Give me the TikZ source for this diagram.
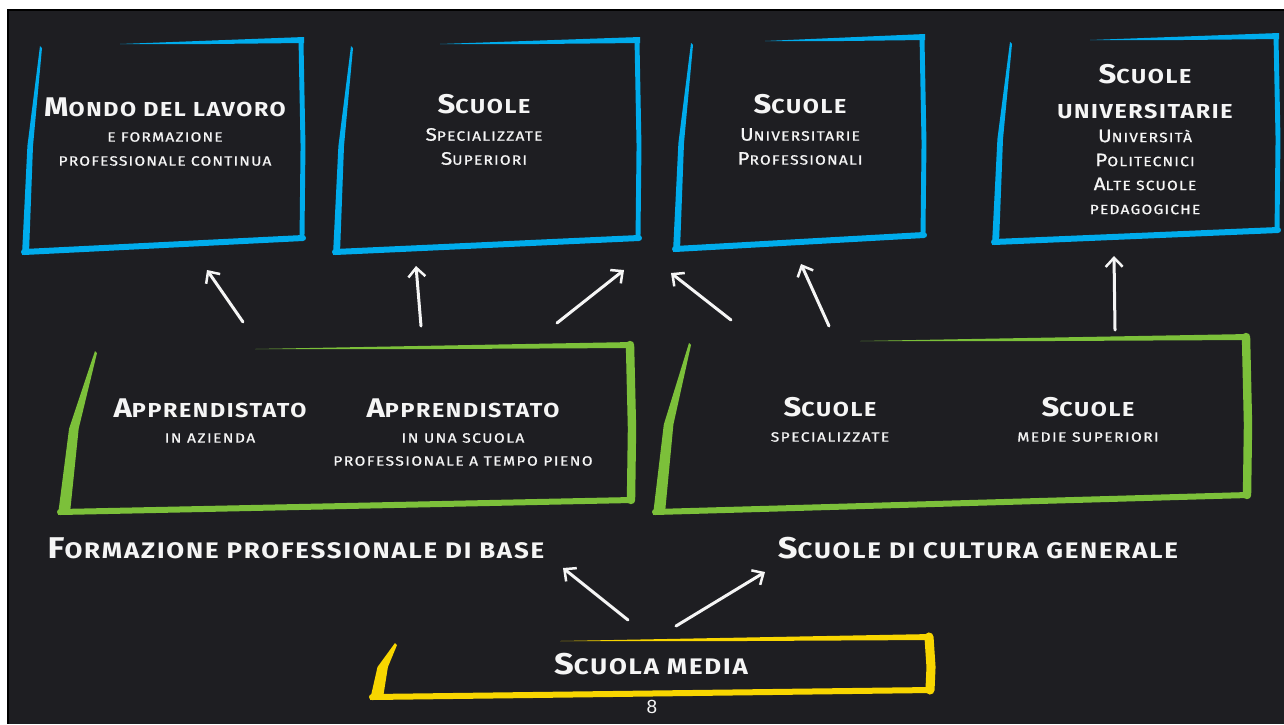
\documentclass[tikz,border=0pt]{standalone}
\usepackage{fontspec}
\setmainfont{Fira Sans}
\newfontfamily\titlefont[FakeStretch=1.15,LetterSpace=8]{Fira Sans}
\newfontfamily\labelfont[FakeStretch=1.15,LetterSpace=8]{Fira Sans}
\newfontfamily\subfont[FakeStretch=1.15,LetterSpace=9,FakeBold=1]{Fira Sans}
\newfontfamily\gsubfont[FakeStretch=1.15,LetterSpace=11,FakeBold=1]{Fira Sans}
\newfontfamily\pagefont{Liberation Sans}
\usetikzlibrary{arrows.meta}
\makeatletter
\newcommand\smc[1]{{\fontsize{\fpeval{0.75*\f@size}}{\f@baselineskip}\selectfont\MakeUppercase{#1}}}
\makeatother
\definecolor{board}{RGB}{30,30,34}
\definecolor{cblue}{RGB}{0,172,236}
\definecolor{cgreen}{RGB}{124,192,58}
\definecolor{cyellow}{RGB}{248,214,0}
\definecolor{chalk}{RGB}{245,245,245}
% #1 colour, #2 L, #3 T, #4 R, #5 B, #6 top start x, #7 left top offset, #8 left thickness, #9 bottom slope
\newcommand\chalkbox[9]{%
  \fill[#1] ({#2+#7},{#3+6}) -- ({#2+0.3*#7},{(#3+#5)/2}) -- ({#2},{#5+3})
     -- ({#2+#8},{#5+1}) -- ({#2+0.3*#7+0.8*#8},{(#3+#5)/2}) -- ({#2+#7+2},{#3+8}) -- cycle;
  \fill[#1] (#6,{#3+4}) -- ({#4+3},{#3-3}) -- ({#4+3},{#3+3}) -- ({(#6+#4)/2},{#3+4}) -- cycle;
  \draw[#1,line width={0.7*#8},line cap=round] (#4,{#3}) -- ({#4+2},{(#3+#5)/2}) -- ({#4+1},{#5-#9});
  \draw[#1,line width=6pt,line cap=round] ({#2+2},{#5}) -- ({#4+2},{#5-#9});
}
\begin{document}
\begin{tikzpicture}[x=1pt,y=-1pt,
  title/.style={text=chalk,font=\titlefont\fontsize{27}{35}\selectfont\bfseries,align=center,inner sep=0pt},
  sub/.style={text=chalk,font=\subfont\fontsize{18}{24}\selectfont,align=center,inner sep=0pt},
  gsub/.style={text=chalk,font=\gsubfont\fontsize{18}{23}\selectfont,align=center,inner sep=0pt},
  label/.style={text=chalk,font=\labelfont\fontsize{30}{36}\selectfont\bfseries,inner sep=0pt},
  chalkarrow/.style={draw=chalk,line width=3pt,line cap=round,
    -{Straight Barb[length=9pt,width=17pt,line width=2.5pt]}}]
\useasboundingbox (0,0) rectangle (1284,724);
\fill[white] (0,0) rectangle (1284,724);
\fill[black] (7,9) rectangle (1284,724);
\fill[board] (9,11) rectangle (1284,724);

% boxes
\chalkbox{cblue}{22}{40}{301}{252}{120}{18}{7}{14}
\chalkbox{cblue}{333}{40}{637}{252}{440}{18}{7}{14}
\chalkbox{cblue}{673}{37}{922}{249}{765}{18}{7}{14}
\chalkbox{cblue}{992}{36}{1276}{242}{1090}{18}{7}{12}
\chalkbox{cgreen}{58}{345}{630}{512}{255}{37}{12}{12}
\chalkbox{cgreen}{653}{337}{1246}{512}{860}{36}{12}{17}
\chalkbox{cyellow}{370}{637}{929}{697}{560}{25}{13}{7}

% texts top row
\node[title] (t1) at (165,107) {M\smc{ondo del lavoro}};
\node[sub] (s1) at (165,149) {\smc{e formazione}\\\smc{professionale continua}};
\node[title] (t2) at (484,104) {S\smc{cuole}};
\node[sub] (s2) at (484,146.5) {S\smc{pecializzate}\\S\smc{uperiori}};
\node[title] (t3) at (800,104) {S\smc{cuole}};
\node[sub] (s3) at (800,146.5) {U\smc{niversitarie}\\P\smc{rofessionali}};
\node[title] (t4) at (1145,91.5) {S\smc{cuole}\\\smc{universitarie}};
\node[sub] (s4) at (1145,172) {U\smc{niversità}\\P\smc{olitecnici}\\A\smc{lte scuole}\\\smc{pedagogiche}};

% texts middle row
\node[title] (m1) at (210,408) {A\smc{pprendistato}};
\node[gsub] (n1) at (210,438) {\smc{in azienda}};
\node[title] (m2) at (463,408) {A\smc{pprendistato}};
\node[gsub] (n2) at (463,449.5) {\smc{in una scuola}\\\smc{professionale a tempo pieno}};
\node[title] (m3) at (830,407) {S\smc{cuole}};
\node[gsub] (n3) at (830,437) {\smc{specializzate}};
\node[title] (m4) at (1088,407) {S\smc{cuole}};
\node[gsub] (n4) at (1088,437) {\smc{medie superiori}};

% labels
\node[label] (fp) at (296,548) {F\smc{ormazione professionale di base}};
\node[label] (cg) at (978,548) {S\smc{cuole di cultura generale}};
\node[label] (sm) at (651,664) {S\smc{cuola media}};
\node[text=chalk,font=\pagefont\fontsize{19}{22}\selectfont,inner sep=0pt] (pg) at (652,707) {8};

% arrow end points
\coordinate (a1s) at (243,322); \coordinate (a1e) at (207,270);
\coordinate (a2s) at (421,326); \coordinate (a2e) at (416,266);
\coordinate (a3s) at (557,323); \coordinate (a3e) at (624,270);
\coordinate (a4s) at (731,320); \coordinate (a4e) at (671,273);
\coordinate (a5s) at (829,326); \coordinate (a5e) at (801,264);
\coordinate (a6s) at (1115,330); \coordinate (a6e) at (1114,256);
\coordinate (a7s) at (628,620); \coordinate (a7e) at (563,568);
\coordinate (a8s) at (676,626); \coordinate (a8e) at (765,572);
\foreach \i in {1,...,8} {\draw[chalkarrow] (a\i s) -- (a\i e);}
\end{tikzpicture}
\end{document}
